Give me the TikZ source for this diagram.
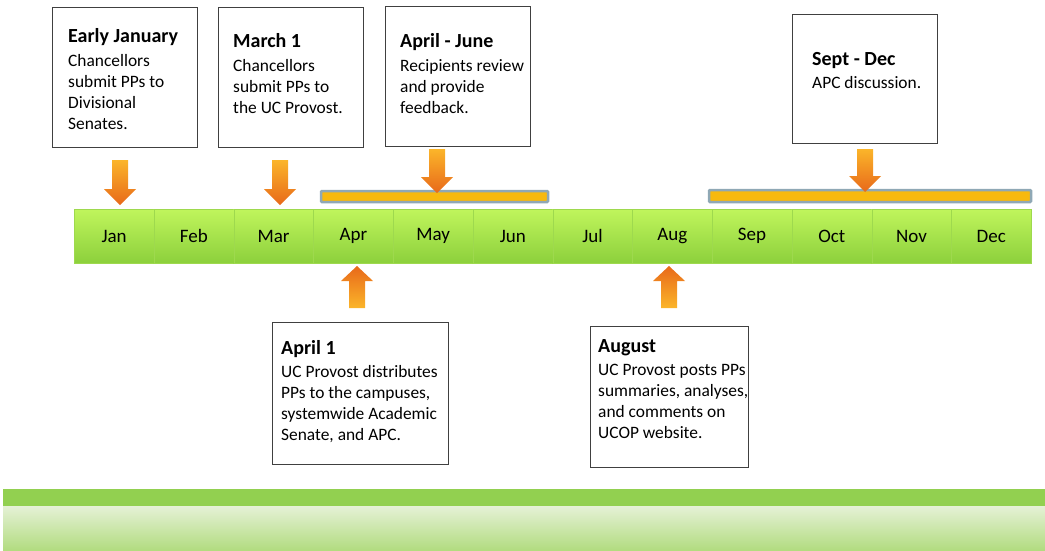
\documentclass[tikz,border=0pt]{standalone}
\usepackage{fontspec}
\setmainfont{Carlito}
\usepackage{tikz}
\usetikzlibrary{positioning}

\definecolor{barlight}{HTML}{C0F55C}
\definecolor{bardark}{HTML}{8CD03C}
\definecolor{celledge}{HTML}{9ED94E}
\definecolor{arrlight}{HTML}{FBB52A}
\definecolor{arrdark}{HTML}{E8691A}
\definecolor{spanfill}{HTML}{F7B90E}
\definecolor{spanedge}{HTML}{8FA8B5}
\definecolor{bandgreen}{HTML}{92D050}
\definecolor{bandlight}{HTML}{E5F1D6}
\definecolor{banddark}{HTML}{B2DC80}

\newcommand{\evtitle}[1]{{\fontsize{20}{22}\selectfont\bfseries #1}}

\tikzset{
	evbox/.style={draw=black!75, line width=1.3pt, fill=white, anchor=north west, inner sep=0pt},
	evtext/.style={anchor=north west, align=left, inner sep=0pt, font=\fontsize{17.4}{21}\selectfont},
	month/.style={anchor=north west, minimum width=79.75pt, minimum height=54pt, inner sep=0pt, draw=celledge, top color=barlight, bottom color=bardark, font=\fontsize{19}{21}\selectfont},
	spanbar/.style={draw=spanedge, line width=2.5pt, fill=spanfill, rounded corners=1pt},
	pics/arrdown/.style={code={\shade[top color=arrlight, bottom color=arrdark] (-8,0) -- (8,0) -- (8,#1-16) -- (16,#1-16) -- (0,#1) -- (-16,#1-16) -- (-8,#1-16) -- cycle;}},
	pics/arrup/.style={code={\shade[top color=arrdark, bottom color=arrlight] (0,0) -- (16,15) -- (8,15) -- (8,#1) -- (-8,#1) -- (-8,15) -- (-16,15) -- cycle;}},
}

\begin{document}
\begin{tikzpicture}[x=1pt, y=-1pt]
	\useasboundingbox (0,0) rectangle (1045,550);
	% boxes above
	\node[evbox, minimum width=145pt, minimum height=140pt] (jan) at (52,7) {};
	\node[evtext] (jant) at (68,28) {\evtitle{Early January}\\[3pt]Chancellors\\submit PPs to\\Divisional\\Senates.};
	\node[evbox, minimum width=145pt, minimum height=140pt] (mar) at (218,7) {};
	\node[evtext] (mart) at (233,33) {\evtitle{March 1}\\[3pt]Chancellors\\submit PPs to\\the UC Provost.};
	\node[evbox, minimum width=145pt, minimum height=140pt] (aprjun) at (385,6) {};
	\node[evtext] (aprjunt) at (400,33) {\evtitle{April - June}\\[3pt]Recipients review\\and provide\\feedback.};
	\node[evbox, minimum width=145pt, minimum height=129pt] (sepdec) at (792,14) {};
	\node[evtext] (sepdect) at (812,52) {\evtitle{Sept - Dec}\\[2pt]APC discussion.};
	% spans
	\draw[spanbar] (321,191) rectangle (548,202);
	\draw[spanbar] (709,190) rectangle (1031,202);
	% months
	\foreach \m [count=\i] in {Jan,Feb,Mar,Apr,May,Jun,Jul,Aug,Sep,Oct,Nov,Dec}
		\node[month] (m\i) at ({74+(\i-1)*79.75},209) {\m};
	% arrows
	\pic at (120,160) {arrdown=45};
	\pic at (280,160) {arrdown=45};
	\pic at (437,149) {arrdown=44};
	\pic at (865,149) {arrdown=43};
	\pic at (357,266) {arrup=42};
	\pic at (669,266) {arrup=42};
	% boxes below
	\node[evbox, minimum width=176pt, minimum height=142pt] (apr1) at (272,322) {};
	\node[evtext] (apr1t) at (281,340) {\evtitle{April 1}\\[2pt]UC Provost distributes\\PPs to the campuses,\\systemwide Academic\\Senate, and APC.};
	\node[evtext] (augt) at (598,339) {\evtitle{August}\\[2pt]UC Provost posts PPs\\summaries, analyses,\\and comments on\\UCOP website.};
	\node[evbox, fill=none, minimum width=158pt, minimum height=141pt] (aug) at (590,326) {};
	% footer band
	\fill[bandgreen] (3,489) rectangle (1045,506);
	\shade[top color=bandlight, bottom color=banddark] (3,506) rectangle (1045,550);
\end{tikzpicture}
\end{document}
